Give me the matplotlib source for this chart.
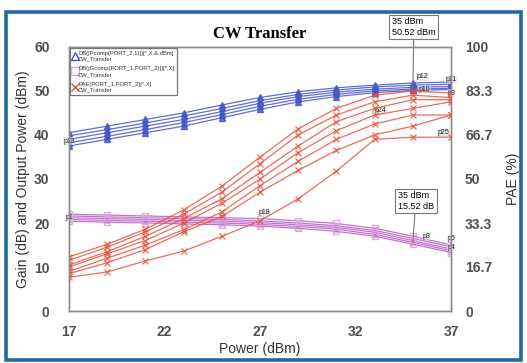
"""
CW transfer sweep: output power, gain (left axis) and PAE (right axis)
vs input power, several load states overlaid.
"""

import matplotlib
matplotlib.use("Agg")
import matplotlib.pyplot as plt
from matplotlib.lines import Line2D
from matplotlib.patches import Rectangle

plt.rcParams["font.family"] = ["Liberation Sans", "DejaVu Sans"]

# input power sweep (dBm)
pin = [17, 19, 21, 23, 25, 27, 29, 31, 33, 35, 37]

# output power (dBm), one list per trace
pout_1 = [40.5, 42.0, 43.5, 45.0, 46.8, 48.5, 49.8, 50.7, 51.3, 51.8, 52.0]
pout_2 = [39.8, 41.2, 42.7, 44.3, 46.0, 47.8, 49.2, 50.2, 50.9, 51.3, 51.5]
pout_3 = [39.0, 40.5, 42.0, 43.5, 45.3, 47.2, 48.7, 49.7, 50.4, 50.8, 51.0]
pout_4 = [38.2, 39.7, 41.2, 42.8, 44.6, 46.5, 48.1, 49.2, 50.0, 50.4, 50.6]
pout_5 = [37.5, 39.0, 40.5, 42.0, 43.9, 45.8, 47.5, 48.7, 49.6, 50.1, 50.3]

# gain (dB)
gain_1 = [22.0, 21.8, 21.6, 21.4, 21.2, 21.0, 20.5, 19.9, 18.8, 17.0, 15.0]
gain_2 = [21.6, 21.4, 21.2, 21.0, 20.8, 20.5, 20.0, 19.4, 18.3, 16.5, 14.6]
gain_3 = [21.2, 21.0, 20.8, 20.6, 20.4, 20.1, 19.6, 19.0, 17.9, 16.0, 14.1]
gain_4 = [20.8, 20.6, 20.4, 20.2, 20.0, 19.7, 19.2, 18.6, 17.4, 15.6, 13.7]
gain_5 = [20.4, 20.2, 20.0, 19.8, 19.6, 19.3, 18.8, 18.1, 17.0, 15.2, 13.3]

# PAE (%)
pae_1 = [20.5, 25.3, 31.0, 38.3, 47.3, 58.3, 69.0, 76.7, 81.7, 83.3, 82.5]
pae_2 = [19.2, 24.2, 30.0, 36.7, 45.0, 55.8, 66.7, 74.2, 79.2, 81.7, 80.8]
pae_3 = [17.5, 22.5, 28.3, 35.0, 42.5, 52.5, 62.5, 71.7, 76.7, 80.0, 80.0]
pae_4 = [16.7, 21.7, 26.7, 33.3, 40.8, 50.0, 60.0, 68.3, 74.2, 76.7, 79.2]
pae_5 = [15.0, 20.0, 25.0, 30.8, 37.5, 47.5, 56.7, 65.0, 70.8, 74.2, 74.2]
pae_6 = [14.2, 18.3, 23.3, 30.0, 35.8, 45.0, 53.3, 60.8, 66.7, 70.0, 74.2]
pae_7 = [12.8, 14.8, 19.0, 22.7, 28.3, 34.2, 42.5, 53.0, 65.0, 65.8, 65.8]

x_ticks = [17, 22, 27, 32, 37]
left_ticks = [0, 10, 20, 30, 40, 50, 60]
right_ticks = [0, 16.7, 33.3, 50, 66.7, 83.3, 100]
right_labels = ["0", "16.7", "33.3", "50", "66.7", "83.3", "100"]

BLUE = "#4456c8"
MAG = "#bb64c6"
RED = "#e8533f"
TXT = "#4f4f4f"

fig = plt.figure(figsize=(5.27, 3.63), dpi=100)
fig.patch.set_facecolor("white")
# blue frame around the whole figure
fig.patches.append(Rectangle((0.012, 0.008), 0.976, 0.958, transform=fig.transFigure,
                             fill=False, ec="#1f6b9c", lw=2.6))

ax = fig.add_axes([0.131, 0.143, 0.725, 0.728])
ax2 = ax.twinx()

for ys in [pout_1, pout_2, pout_3, pout_4, pout_5]:
    ax.plot(pin, ys, color=BLUE, lw=0.9, marker="^", ms=5, mfc=BLUE, mec=BLUE, alpha=0.85)
for ys in [gain_1, gain_2, gain_3, gain_4, gain_5]:
    ax.plot(pin, ys, color=MAG, lw=0.9, marker="s", ms=4.5, mfc="none", mec="#d9a6dd", alpha=0.9)
for ys in [pae_1, pae_2, pae_3, pae_4, pae_5, pae_6, pae_7]:
    ax2.plot(pin, ys, color=RED, lw=0.9, marker="x", ms=5, mew=0.9, alpha=0.85)

ax.set_xlim(17, 37)
ax.set_ylim(0, 60)
ax2.set_ylim(0, 100)
ax.set_xticks(x_ticks)
ax.set_yticks(left_ticks)
ax2.set_yticks(right_ticks)
ax2.set_yticklabels(right_labels)

for a in (ax, ax2):
    a.tick_params(length=0, labelsize=10, colors=TXT)
    for s in a.spines.values():
        s.set_color("#8a8a8a")
        s.set_linewidth(1.0)
ax.tick_params(axis="y", pad=14)
ax.tick_params(axis="x", pad=10)
ax2.tick_params(axis="y", pad=10)
for lab in ax.get_xticklabels() + ax.get_yticklabels() + ax2.get_yticklabels():
    lab.set_fontweight("bold")

ax.set_xlabel("Power (dBm)", fontsize=10, color="#333", labelpad=2)
ax.set_ylabel("Gain (dB) and Output Power (dBm)", fontsize=10, color="#333", labelpad=3)
ax2.set_ylabel("PAE (%)", fontsize=10, color="#333", labelpad=10)
ax.set_title("CW Transfer", fontsize=12, fontweight="bold",
             family=["Liberation Serif", "DejaVu Serif"], pad=6)

# legend
handles = [
    Line2D([], [], ls="none", marker="^", mfc="none", mec=BLUE, ms=6),
    Line2D([], [], ls="none", marker="s", mfc="none", mec="#d9a6dd", ms=6),
    Line2D([], [], ls="none", marker="x", color=RED, ms=6),
]
labels = [
    "DB(|Pcomp(PORT_2,1)|)[*,X,&,dBm]\nCW_Transfer",
    "DB(|Gcomp(PORT_1,PORT_2)|)[*,X]\nCW_Transfer",
    "PAE(PORT_1,PORT_2)[*,X]\nCW_Transfer",
]
leg = ax.legend(handles, labels, loc="upper left", fontsize=4.2, frameon=True,
                fancybox=False, edgecolor="#555", borderaxespad=0.15,
                handlelength=0.6, handletextpad=0.3, labelspacing=0.8,
                borderpad=0.5)
leg.get_frame().set_linewidth(0.9)
for t in leg.get_texts():
    t.set_color("#333")

# marker readouts at 35 dBm
box = dict(boxstyle="square,pad=0.3", fc="white", ec="#777", lw=0.8)
ax.annotate("35 dBm\n50.52 dBm", xy=(35, 50.52), xytext=(35.05, 64.5),
            ha="center", va="center", fontsize=6.5, multialignment="left",
            bbox=box, annotation_clip=False,
            arrowprops=dict(arrowstyle="-", color="#777", lw=0.8, shrinkA=0, shrinkB=0))
ax.annotate("35 dBm\n15.52 dB", xy=(35, 15.52), xytext=(35.15, 25.0),
            ha="center", va="center", fontsize=6.5, multialignment="left",
            bbox=box,
            arrowprops=dict(arrowstyle="-", color="#777", lw=0.8, shrinkA=0, shrinkB=0))

# marker tags
tags = [("p12", 35.5, 53.2), ("p10", 35.6, 50.3), ("p24", 33.3, 45.5), ("p25", 36.6, 40.5),
        ("p18", 27.2, 22.3), ("p3", 35.7, 17.0), ("p1", 17.0, 21.2), ("p13", 17.0, 38.6),
        ("p11", 37.0, 52.5), ("p9", 37.0, 49.5), ("p5", 37.0, 16.5), ("p4", 37.0, 14.5)]
for name, tx, ty in tags:
    ax.text(tx, ty, name, fontsize=5, color="#222", ha="center", va="center",
            bbox=dict(boxstyle="square,pad=0.05", fc="#ddd", ec="none", alpha=0.6),
            clip_on=False)

fig.savefig("out.png", dpi=100)
